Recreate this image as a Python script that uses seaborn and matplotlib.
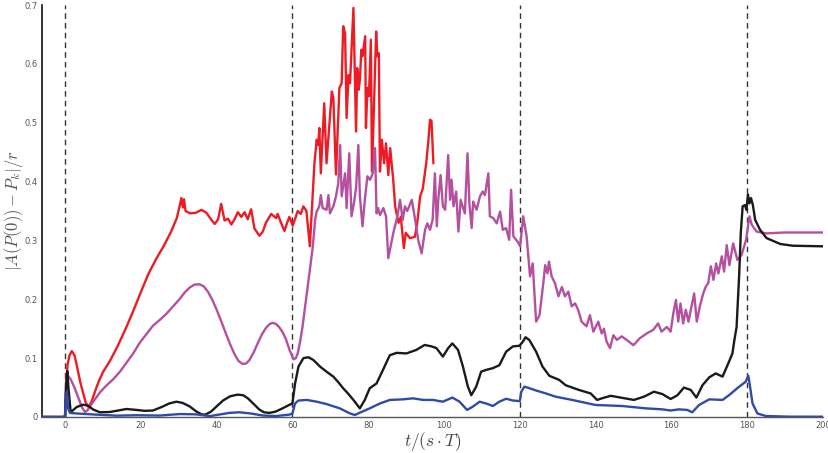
import numpy as np
import pandas as pd
import matplotlib
matplotlib.use("Agg")
import matplotlib.pyplot as plt
import seaborn as sns

# ---- series data: time t/(s*T) and normalised deviation ----
red_t = [-6, 0, 0.3, 0.7, 1.2, 1.8, 2.5, 3.2, 4, 4.8, 5.5, 6.2, 7, 8, 9, 10, 12, 14, 16, 18, 20,
         22, 24, 26, 28, 29.5, 30.3, 30.7, 31.1, 31.4, 31.8, 33, 34.5, 36, 37.3, 38.5, 39.5, 40.4,
         41.2, 42.1, 43, 43.9, 44.8, 45.6, 46.5, 47.4, 48.2, 49.1, 50, 51.3, 52.2, 53, 54.4, 55.7,
         56.1, 57, 57.9, 58.6, 59.2, 60.1, 61.4, 62.2, 62.9, 63.7, 64.6, 65.2, 65.8, 66.4, 66.8,
         67.1, 67.5, 68.4, 69, 70.4, 70.8, 71.5, 72.4, 73, 73.4, 73.9, 74.3, 74.8, 75.2, 76.1, 76.8,
         77.1, 77.5, 77.8, 78.2, 78.5, 79.2, 79.4, 79.8, 80.2, 80.7, 81, 82.1, 82.4, 82.8, 83.1,
         83.6, 84.2, 84.7, 85.3, 85.8, 86.6, 87.1, 88, 88.6, 89.4, 89.9, 91, 92.3, 92.9, 93.7, 94.4,
         95.3, 95.9, 96.3, 96.7, 97.2]
red_v = [0, 0, 0.06, 0.09, 0.105, 0.112, 0.105, 0.085, 0.06, 0.04, 0.024, 0.017, 0.026, 0.045,
         0.062, 0.076, 0.097, 0.122, 0.15, 0.18, 0.212, 0.243, 0.268, 0.29, 0.315, 0.338, 0.36,
         0.372, 0.356, 0.37, 0.35, 0.346, 0.347, 0.352, 0.347, 0.336, 0.328, 0.336, 0.362, 0.334,
         0.337, 0.327, 0.337, 0.348, 0.34, 0.348, 0.336, 0.353, 0.32, 0.308, 0.315, 0.33, 0.345,
         0.338, 0.345, 0.33, 0.316, 0.33, 0.34, 0.325, 0.35, 0.345, 0.358, 0.35, 0.29, 0.36, 0.43,
         0.471, 0.462, 0.491, 0.414, 0.533, 0.431, 0.553, 0.542, 0.412, 0.559, 0.567, 0.664, 0.652,
         0.508, 0.581, 0.567, 0.695, 0.485, 0.593, 0.556, 0.573, 0.624, 0.613, 0.647, 0.491, 0.559,
         0.545, 0.641, 0.417, 0.655, 0.613, 0.618, 0.417, 0.471, 0.431, 0.465, 0.411, 0.457, 0.403,
         0.358, 0.33, 0.34, 0.287, 0.313, 0.304, 0.306, 0.328, 0.375, 0.388, 0.431, 0.471, 0.505,
         0.503, 0.431]

mag_t = [-6, 0, 0.3, 0.8, 1.5, 2.5, 3.5, 4.5, 5.3, 6, 6.8, 8, 9.5, 11, 12.7, 14.5, 16.2, 18, 19.7,
         21.5, 23.2, 25, 26.7, 28.5, 30.2, 31.5, 32.9, 34.2, 35.5, 36.6, 37.7, 38.8, 39.9, 41.2,
         42.5, 43.6, 44.7, 45.8, 46.9, 47.8, 48.7, 49.8, 50.9, 52, 53.1, 54, 54.8, 55.7, 56.6, 57.5,
         58.3, 59.3, 60.3, 60.9, 61.4, 62, 62.7, 63.4, 64.1, 64.6, 65.3, 66, 66.4, 67.1, 67.5, 68,
         69, 69.5, 69.9, 70.8, 71.5, 72.1, 72.6, 73, 73.9, 74.3, 75, 75.6, 76.3, 76.8, 77.4, 77.8,
         78.5, 79.2, 79.8, 80.5, 81.2, 81.8, 82.2, 82.6, 83.1, 84, 84.7, 85.3, 86.6, 87.7, 88.4,
         89.1, 89.7, 90.3, 91.5, 92.4, 93.2, 94.1, 95, 95.6, 96.3, 97, 97.6, 98.1, 98.5, 99.1, 99.7,
         100.3, 101.1, 101.6, 102, 102.5, 103.2, 103.8, 104.4, 104.9, 105.5, 106.2, 106.7, 107.3,
         107.7, 108.6, 109.5, 110.2, 110.8, 111.7, 112.1, 113, 113.9, 114.8, 115.5, 116.4, 117.2,
         117.7, 118.3, 119.4, 120.1, 120.9, 121.8, 122.7, 123.4, 124.3, 125.2, 126.2, 126.7, 127.3,
         127.7, 128.4, 129.3, 130.2, 131.1, 131.9, 132.8, 133.7, 134.6, 135.4, 136.3, 137.6, 138.5,
         139.4, 140.7, 141.6, 142.2, 142.9, 143.8, 144.7, 145.6, 146.9, 148.2, 150, 151.7, 153.5,
         155.2, 156.5, 157.4, 158.8, 159.8, 160.5, 161.2, 161.8, 162.4, 163.1, 163.8, 164.5, 165.3,
         166, 166.7, 167.5, 168.4, 169.1, 169.7, 170.4, 171.1, 171.8, 172.4, 173.3, 173.9, 174.6,
         175.3, 176.3, 177.4, 178.5, 179.7, 180.6, 181.2, 182.5, 185, 190, 200]
mag_v = [0, 0, 0.05, 0.07, 0.064, 0.05, 0.033, 0.016, 0.0085, 0.012, 0.02, 0.031, 0.044, 0.054,
         0.064, 0.077, 0.092, 0.108, 0.126, 0.141, 0.155, 0.165, 0.175, 0.188, 0.2, 0.211, 0.22,
         0.225, 0.2255, 0.222, 0.213, 0.2, 0.184, 0.163, 0.141, 0.123, 0.107, 0.095, 0.09, 0.091,
         0.097, 0.11, 0.126, 0.141, 0.152, 0.158, 0.16, 0.158, 0.152, 0.143, 0.132, 0.113, 0.098,
         0.1, 0.108, 0.127, 0.155, 0.19, 0.225, 0.25, 0.285, 0.335, 0.349, 0.358, 0.377, 0.355,
         0.352, 0.377, 0.346, 0.358, 0.375, 0.397, 0.462, 0.375, 0.414, 0.355, 0.448, 0.341, 0.366,
         0.39, 0.462, 0.375, 0.324, 0.375, 0.409, 0.403, 0.414, 0.457, 0.346, 0.355, 0.343, 0.355,
         0.341, 0.27, 0.312, 0.341, 0.369, 0.335, 0.358, 0.35, 0.369, 0.335, 0.3, 0.278, 0.318,
         0.329, 0.318, 0.335, 0.414, 0.324, 0.37, 0.411, 0.358, 0.352, 0.445, 0.369, 0.403, 0.358,
         0.383, 0.315, 0.369, 0.358, 0.346, 0.448, 0.363, 0.321, 0.366, 0.352, 0.375, 0.383, 0.377,
         0.414, 0.341, 0.338, 0.329, 0.349, 0.318, 0.321, 0.301, 0.386, 0.307, 0.298, 0.29, 0.341,
         0.307, 0.239, 0.261, 0.162, 0.173, 0.227, 0.258, 0.244, 0.264, 0.239, 0.227, 0.205, 0.221,
         0.205, 0.213, 0.188, 0.193, 0.182, 0.162, 0.154, 0.173, 0.145, 0.162, 0.142, 0.15, 0.128,
         0.117, 0.139, 0.131, 0.137, 0.131, 0.122, 0.134, 0.142, 0.148, 0.159, 0.145, 0.153, 0.145,
         0.176, 0.199, 0.162, 0.193, 0.159, 0.182, 0.162, 0.188, 0.21, 0.162, 0.188, 0.21, 0.222,
         0.227, 0.256, 0.233, 0.261, 0.244, 0.273, 0.247, 0.292, 0.258, 0.295, 0.267, 0.275, 0.301,
         0.341, 0.3265, 0.315, 0.312, 0.3135, 0.3135]

blk_t = [-6, 0, 0.3, 0.6, 0.9, 1.5, 2.2, 3.1, 4.8, 6.1, 7.5, 9.2, 11.8, 14, 16.2, 18.9, 21, 23.2,
         25.5, 27.5, 29.4, 31, 32.9, 34.5, 36, 37, 38.5, 40, 41.7, 43.5, 45.5, 47, 48.2, 49.8, 51.3,
         52.5, 53.9, 55.5, 57.5, 59, 60, 60.7, 61.6, 62.9, 64.2, 65.5, 67.3, 69, 70.8, 72, 73.4,
         74.8, 76.1, 77.8, 79.1, 80.4, 82.2, 83.9, 85.7, 87.5, 90.1, 92.7, 94.9, 96.7, 98, 99.7,
         101.1, 102.2, 103.7, 105, 106.3, 107.2, 108.5, 109.8, 111.1, 112.9, 114.6, 116.4, 118.2,
         119.9, 120.8, 121.5, 122.5, 124.3, 126, 127.8, 130.4, 132.1, 135.6, 138.7, 140.4, 141.8,
         144, 146.6, 150.1, 152.8, 155.4, 157.6, 159.8, 161.6, 163.3, 165.1, 166.6, 168.2, 170,
         171.7, 173.5, 175.2, 176.1, 176.6, 177.2, 177.9, 178.3, 178.8, 179.4, 179.8, 180.2, 180.6,
         181, 181.5, 182.1, 183.4, 185.1, 188.7, 192, 200]
blk_v = [0, 0, 0.05, 0.078, 0.05, 0.008, 0.012, 0.017, 0.021, 0.019, 0.0125, 0.008, 0.0085, 0.011,
         0.0136, 0.012, 0.0105, 0.011, 0.017, 0.023, 0.026, 0.024, 0.018, 0.01, 0.0045, 0.004,
         0.009, 0.018, 0.028, 0.035, 0.038, 0.037, 0.032, 0.022, 0.0125, 0.008, 0.007, 0.009, 0.015,
         0.02, 0.023, 0.057, 0.0856, 0.1, 0.1015, 0.097, 0.0856, 0.077, 0.0686, 0.06, 0.0488,
         0.039, 0.029, 0.0147, 0.029, 0.0488, 0.057, 0.08, 0.105, 0.109, 0.108, 0.114, 0.1224,
         0.12, 0.117, 0.1026, 0.117, 0.125, 0.114, 0.0856, 0.0516, 0.037, 0.0516, 0.077, 0.08,
         0.083, 0.088, 0.111, 0.12, 0.121, 0.128, 0.1355, 0.131, 0.111, 0.0856, 0.07, 0.063, 0.054,
         0.046, 0.04, 0.029, 0.032, 0.036, 0.033, 0.029, 0.0346, 0.043, 0.039, 0.0306, 0.037, 0.05,
         0.046, 0.033, 0.054, 0.0675, 0.074, 0.0686, 0.094, 0.108, 0.13, 0.153, 0.244, 0.312, 0.358,
         0.36, 0.352, 0.378, 0.363, 0.372, 0.36, 0.335, 0.318, 0.304, 0.294, 0.291, 0.29]

blu_t = [-6, 0, 0.2, 0.5, 0.8, 1.3, 3, 8.3, 13.6, 18.9, 25, 30.3, 34.6, 38.2, 43.4, 46, 49, 52.2,
         55.7, 59.2, 60, 60.7, 61.6, 63.8, 66.4, 69, 72.5, 75.2, 76.5, 77.8, 80.4, 83.1, 85.7, 89.2,
         91.8, 94.5, 97.1, 99.7, 102.2, 104.1, 106.1, 107.6, 109.4, 111.1, 112.9, 114.6, 116.4,
         118.2, 120, 120.4, 121.2, 122.5, 124.3, 126.9, 129.4, 133.8, 140, 147, 153.2, 157.6, 159.8,
         162, 164.2, 165.5, 167.3, 170, 173.5, 175.2, 177.4, 179.6, 180.3, 180.7, 181.4, 182.7,
         184.9, 191.1, 200]
blu_v = [0, 0, 0.03, 0.043, 0.015, 0.007, 0.006, 0.004, 0.0023, 0.003, 0.0025, 0.005, 0.0045,
         0.0015, 0.007, 0.008, 0.006, 0.0025, 0.0017, 0.004, 0.006, 0.023, 0.028, 0.029, 0.026,
         0.022, 0.0147, 0.006, 0.0034, 0.0074, 0.0147, 0.023, 0.029, 0.03, 0.0317, 0.029, 0.029,
         0.026, 0.033, 0.026, 0.012, 0.0176, 0.026, 0.023, 0.0187, 0.026, 0.031, 0.028, 0.027, 0.043,
         0.0516, 0.049, 0.045, 0.04, 0.0346, 0.029, 0.0204, 0.0187, 0.0147, 0.013, 0.011, 0.013,
         0.012, 0.008, 0.0204, 0.03, 0.029, 0.037, 0.049, 0.06, 0.07, 0.054, 0.023, 0.006, 0.0017,
         0.0006, 0.0005]

phase_starts = [0, 60, 120, 180]
x_ticks = [0, 20, 40, 60, 80, 100, 120, 140, 160, 180, 200]
y_ticks = [0, 0.1, 0.2, 0.3, 0.4, 0.5, 0.6, 0.7]
series_names = ["red", "magenta", "black", "blue"]
series_colors = ["#ED1C24", "#B5509F", "#1A1A1A", "#2E4CA6"]

frames = []
for name, t, v in zip(series_names, [red_t, mag_t, blk_t, blu_t], [red_v, mag_v, blk_v, blu_v]):
    frames.append(pd.DataFrame({"t": t, "v": v, "series": name}))
df = pd.concat(frames, ignore_index=True)

sns.set_style("white")
plt.rcParams["mathtext.fontset"] = "cm"

fig = plt.figure(figsize=(8.29, 4.53), dpi=100)
ax = fig.add_axes([42 / 829, 1 - 417 / 453, (823 - 42) / 829, (417 - 5) / 453])

for xp in phase_starts:
    ax.axvline(xp, ymin=0, ymax=1, color="#333333", linestyle=(0, (4, 3)), linewidth=1.0, zorder=1)

sns.lineplot(data=df, x="t", y="v", hue="series", hue_order=series_names,
             palette=dict(zip(series_names, series_colors)), estimator=None, sort=False,
             legend=False, linewidth=1.7, ax=ax, zorder=3)

ax.set_xlim(-6.07, 200)
ax.set_ylim(0, 0.7)
ax.set_xticks(x_ticks)
ax.set_xticklabels([str(x) for x in x_ticks])
ax.set_yticks(y_ticks)
ax.set_yticklabels(["0"] + [f"{y:.1f}" for y in y_ticks[1:]])
ax.tick_params(axis="both", direction="in", length=6, width=1.0, labelsize=6,
               labelcolor="#555555", color="#222222", pad=3)

for side in ["top", "right"]:
    ax.spines[side].set_visible(False)
ax.spines["left"].set_color("#111111")
ax.spines["bottom"].set_color("#555555")
ax.spines["left"].set_linewidth(1.2)
ax.spines["bottom"].set_linewidth(1.0)

ax.set_xlabel(r"$t/(s\cdot T)$", fontsize=12.5, color="#444444")
ax.set_ylabel(r"$|A(P(0)) - P_k|/r$", fontsize=12, color="#555555")
ax.xaxis.set_label_coords(0.501, -0.06)
ax.xaxis.label.set_va("center")
ax.yaxis.set_label_coords(-0.037, 0.5)
ax.yaxis.label.set_va("center")
ax.grid(False)

fig.savefig("out.png", dpi=100)
